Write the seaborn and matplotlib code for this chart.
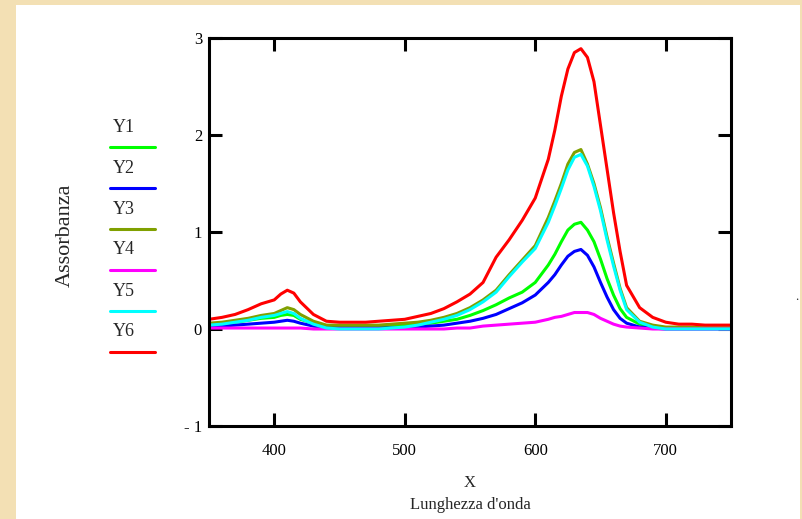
import pandas as pd
import matplotlib.pyplot as plt
import seaborn as sns
from matplotlib.lines import Line2D
from matplotlib.patches import Rectangle

# wavelengths (nm) and absorbance
wavelength = [350, 360, 370, 380, 390, 400, 405, 410, 415, 420, 430, 440, 450, 460, 470,
              480, 490, 500, 510, 520, 530, 540, 550, 560, 570, 580, 590, 600, 610, 615,
              620, 625, 630, 635, 640, 645, 650, 655, 660, 665, 670, 680, 690, 700, 710,
              720, 730, 740, 750]

y1 = [0.05, 0.06, 0.07, 0.09, 0.11, 0.12, 0.14, 0.15, 0.14, 0.10, 0.06, 0.03, 0.03, 0.03, 0.03,
      0.03, 0.04, 0.04, 0.05, 0.06, 0.08, 0.10, 0.14, 0.19, 0.25, 0.32, 0.38, 0.48, 0.66, 0.77,
      0.90, 1.02, 1.08, 1.10, 1.02, 0.90, 0.72, 0.52, 0.35, 0.21, 0.12, 0.05, 0.02, 0.01, 0.01,
      0.01, 0.01, 0.01, 0.01]
y2 = [0.02, 0.03, 0.04, 0.05, 0.06, 0.07, 0.08, 0.09, 0.08, 0.06, 0.03, 0.01, 0.01, 0.01, 0.01,
      0.01, 0.01, 0.01, 0.02, 0.03, 0.04, 0.06, 0.08, 0.11, 0.15, 0.21, 0.27, 0.35, 0.48, 0.56,
      0.66, 0.75, 0.80, 0.82, 0.76, 0.64, 0.48, 0.33, 0.20, 0.11, 0.06, 0.02, 0.01, 0.00, 0.00,
      0.00, 0.00, 0.00, 0.00]
y3 = [0.06, 0.07, 0.09, 0.11, 0.14, 0.16, 0.19, 0.22, 0.20, 0.15, 0.08, 0.04, 0.04, 0.04, 0.04,
      0.04, 0.05, 0.06, 0.07, 0.09, 0.12, 0.16, 0.22, 0.30, 0.40, 0.56, 0.71, 0.86, 1.15, 1.32,
      1.50, 1.70, 1.82, 1.85, 1.70, 1.50, 1.25, 0.95, 0.68, 0.42, 0.22, 0.08, 0.04, 0.02, 0.02,
      0.02, 0.01, 0.01, 0.01]
y4 = [0.01, 0.01, 0.01, 0.01, 0.01, 0.01, 0.01, 0.01, 0.01, 0.01, 0.00, 0.00, 0.00, 0.00, 0.00,
      0.00, 0.00, 0.00, 0.00, 0.00, 0.00, 0.01, 0.01, 0.03, 0.04, 0.05, 0.06, 0.07, 0.10, 0.12,
      0.13, 0.15, 0.17, 0.17, 0.17, 0.15, 0.11, 0.08, 0.05, 0.03, 0.02, 0.01, 0.00, 0.00, 0.00,
      0.00, 0.00, 0.00, 0.00]
y5 = [0.04, 0.05, 0.07, 0.09, 0.12, 0.14, 0.16, 0.18, 0.16, 0.11, 0.05, 0.01, 0.00, 0.00, 0.00,
      0.00, 0.01, 0.02, 0.04, 0.07, 0.10, 0.14, 0.20, 0.28, 0.38, 0.54, 0.69, 0.83, 1.10, 1.27,
      1.45, 1.64, 1.77, 1.80, 1.68, 1.47, 1.22, 0.92, 0.65, 0.40, 0.20, 0.07, 0.02, 0.00, 0.00,
      0.00, 0.00, 0.00, 0.00]
y6 = [0.10, 0.12, 0.15, 0.20, 0.26, 0.30, 0.36, 0.40, 0.37, 0.28, 0.15, 0.08, 0.07, 0.07, 0.07,
      0.08, 0.09, 0.10, 0.13, 0.16, 0.21, 0.28, 0.36, 0.48, 0.74, 0.92, 1.12, 1.35, 1.75, 2.05,
      2.40, 2.68, 2.85, 2.89, 2.80, 2.55, 2.10, 1.65, 1.20, 0.80, 0.45, 0.22, 0.12, 0.07, 0.05,
      0.05, 0.04, 0.04, 0.04]

series_names = ["Y1", "Y2", "Y3", "Y4", "Y5", "Y6"]
series_colors = ["#00ff00", "#0000ff", "#80a000", "#ff00ff", "#00ffff", "#ff0000"]

x_ticks = [400, 500, 600, 700]
y_ticks = [-1, 0, 1, 2, 3]
y_tick_labels = ["- 1", "0", "1", "2", "3"]

# long-form table for seaborn
frames = []
for name, vals in zip(series_names, [y1, y2, y3, y4, y5, y6]):
    frames.append(pd.DataFrame({"x": wavelength, "y": vals, "serie": name}))
df = pd.concat(frames, ignore_index=True)

sns.set_style("ticks")
plt.rcParams['font.family'] = ['Liberation Serif', 'DejaVu Serif']

fig = plt.figure(figsize=(8.03, 5.19), dpi=100)
fig.patch.set_facecolor("#f3e0b4")
fig.add_artist(Rectangle((16 / 803, 0), (800 - 16) / 803, (519 - 5) / 519,
                         transform=fig.transFigure, facecolor="white",
                         edgecolor="none", zorder=0))

ax = fig.add_axes([209 / 803, 93 / 519, 522 / 803, 388 / 519])
ax.set_facecolor("white")

sns.lineplot(data=df, x="x", y="y", hue="serie", hue_order=series_names,
             palette=series_colors, linewidth=2.2, legend=False, ax=ax)

ax.set_xlim(350, 750)
ax.set_ylim(-1, 3)
ax.set_xticks(x_ticks)
ax.set_yticks(y_ticks)
ax.set_yticklabels(y_tick_labels)
ax.tick_params(direction="in", length=9.5, width=2.2, top=True, right=True,
               labelsize=12, colors="black")
ax.tick_params(axis="x", pad=12)
ax.tick_params(axis="y", pad=5)
for s in ax.spines.values():
    s.set_linewidth(2.2)
    s.set_color("black")

ax.set_xlabel("X\nLunghezza d'onda", fontsize=12, linespacing=1.5, labelpad=12)
ax.set_ylabel("")

fig.text(65 / 803, 1 - 235 / 519, "Assorbanza", rotation=90, fontsize=16,
         ha="center", va="center")

# legend: label above a short coloured line
for i, (name, col) in enumerate(zip(series_names, series_colors)):
    ty = 127 + i * 41
    ly = 147 + i * 41
    fig.text(113 / 803, 1 - ty / 519, name, fontsize=13, ha="left", va="center")
    fig.add_artist(Line2D([110 / 803, 155 / 803], [1 - ly / 519, 1 - ly / 519],
                          transform=fig.transFigure, color=col, linewidth=2.2))

fig.text(797 / 803, 1 - 300 / 519, ".", fontsize=9, ha="center", va="baseline")

plt.savefig("out.png", dpi=100, facecolor=fig.get_facecolor())
